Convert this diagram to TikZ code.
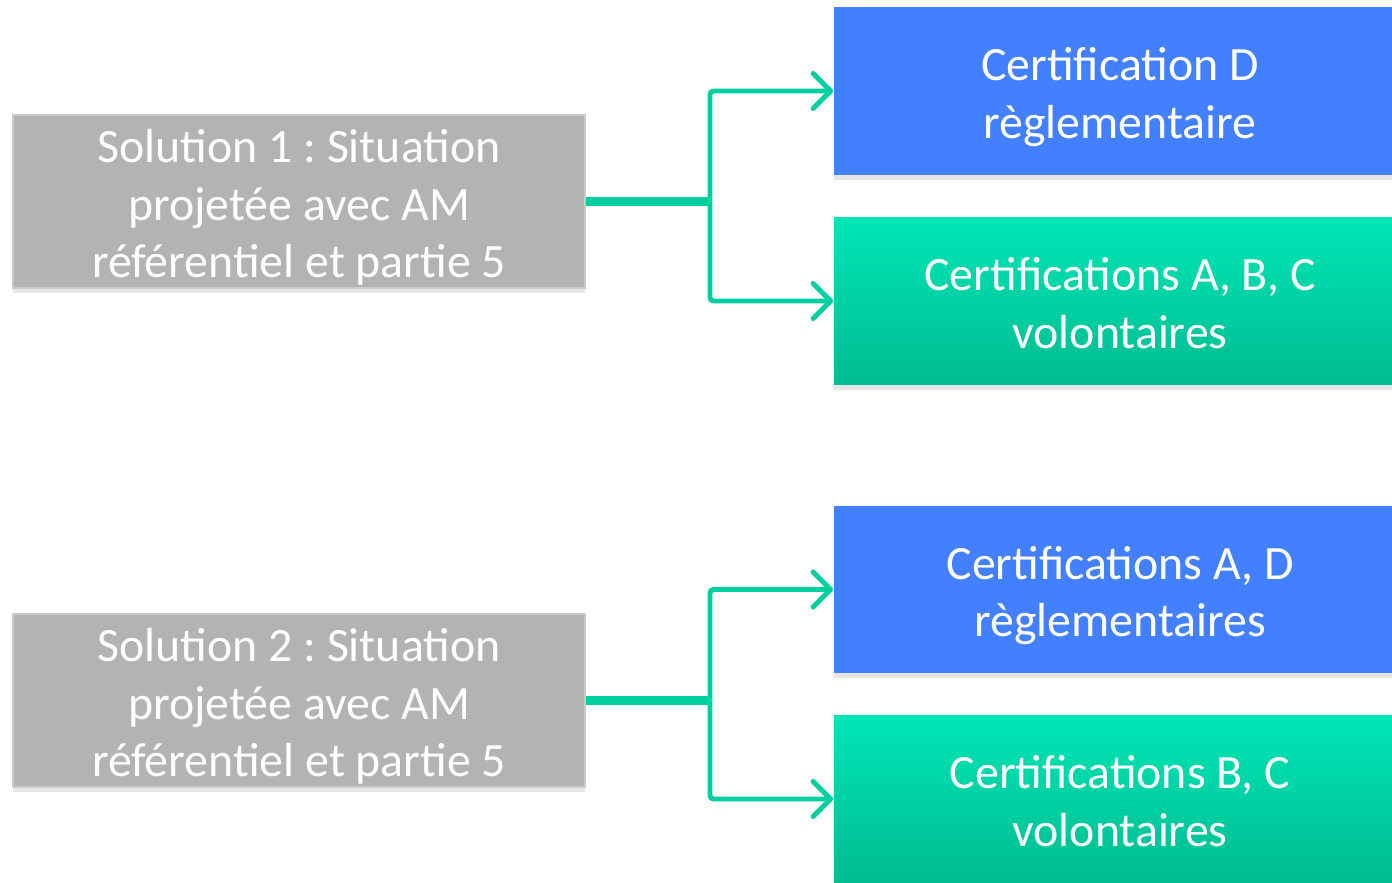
\documentclass[tikz,border=0pt]{standalone}
\usepackage{fontspec}
\setmainfont{Carlito}
\usetikzlibrary{arrows.meta,shadows}
\definecolor{solgray}{RGB}{179,179,179}
\definecolor{regblue}{RGB}{66,128,255}
\definecolor{voltop}{RGB}{0,230,182}
\definecolor{volbot}{RGB}{0,188,145}
\definecolor{linkgreen}{RGB}{0,207,160}
\newcommand{\tstrut}{\rule{0pt}{13.6pt}}
\newcommand{\bstrut}{\rule[-3pt]{0pt}{3pt}}
\tikzstyle{cbox}=[rectangle,minimum width=5.72cm,minimum height=1.67cm,inner sep=0pt,text=white,align=center,font=\fontsize{13.6}{16.3}\selectfont\frenchspacing,drop shadow={shadow xshift=0pt,shadow yshift=-0.5mm,opacity=0.2}]
\tikzstyle{solbox}=[cbox,fill=solgray,draw=solgray!70!white,line width=0.6pt]
\tikzstyle{regbox}=[cbox,fill=regblue]
\tikzstyle{volbox}=[cbox,top color=voltop,bottom color=volbot]
\tikzstyle{trunk}=[linkgreen,line width=2.8pt]
\tikzstyle{branch}=[linkgreen,line width=1.4pt,rounded corners=1pt,-{Straight Barb[length=5pt,width=10pt,round]}]

\begin{document}
\begin{tikzpicture}[x=0.01cm,y=-0.01cm]
    \useasboundingbox (0,0) rectangle (1392,882);
    \clip (0,0) rectangle (1392,882);
    \node[solbox] (s1) at (299,201.5) {\tstrut Solution 1 : Situation\\projetée avec AM\\référentiel et partie 5\bstrut};
    \node[regbox] (r1) at (1120,91)  {\tstrut Certification D\\règlementaire\bstrut};
    \node[volbox] (v1) at (1120,301) {\tstrut Certifications A, B, C\\volontaires\bstrut};
    \node[solbox] (s2) at (299,700.5) {\tstrut Solution 2 : Situation\\projetée avec AM\\référentiel et partie 5\bstrut};
    \node[regbox] (r2) at (1120,589.5) {\tstrut Certifications A, D\\règlementaires\bstrut};
    \node[volbox] (v2) at (1120,799) {\tstrut Certifications B, C\\volontaires\bstrut};
    \coordinate (j1) at (710,201.5);
    \coordinate (j2) at (710,700.5);

    \foreach \sol/\j/\reg/\vol in {s1/j1/r1/v1,s2/j2/r2/v2}
    {
        \draw[trunk] (\sol.east) -- (\j);
        \draw[branch] (\j) |- (\reg.west);
        \draw[branch] (\j) |- (\vol.west);
    }
\end{tikzpicture}
\end{document}
